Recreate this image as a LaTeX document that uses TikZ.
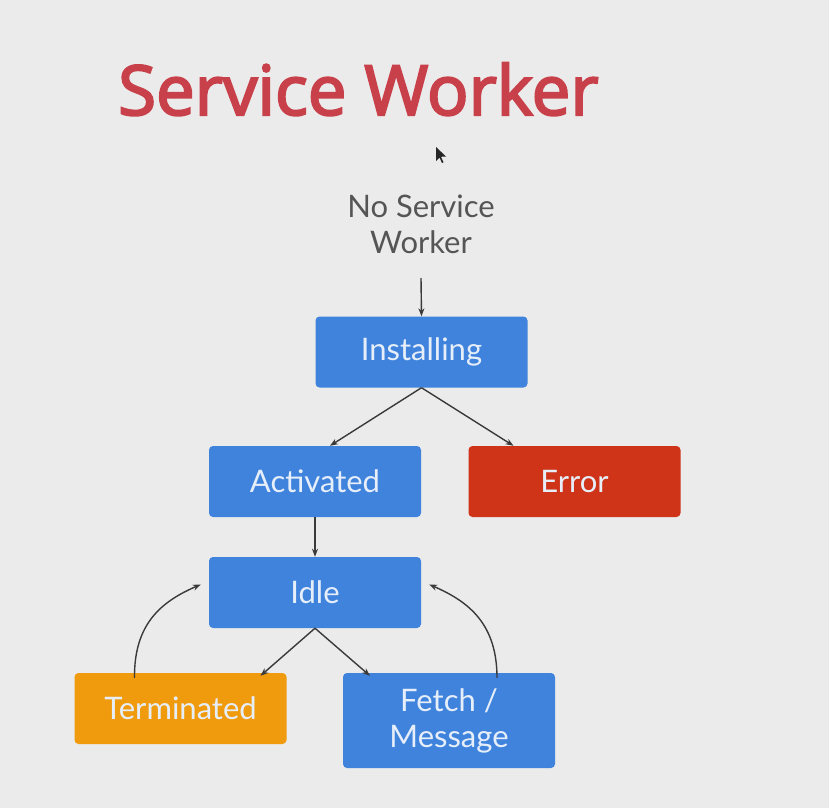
\documentclass[tikz,border=0pt]{standalone}
\usepackage{fontspec}
\setmainfont{Open Sans}
\newfontfamily\titlefont[FakeBold=3]{Open Sans}
\newfontfamily\boxfont{Lato}
\usetikzlibrary{arrows.meta}
\definecolor{bgc}{HTML}{EBEBEB}
\definecolor{titlered}{HTML}{C8404A}
\definecolor{boxblue}{HTML}{3F83DD}
\definecolor{boxred}{HTML}{CF3318}
\definecolor{boxorange}{HTML}{F09A0E}
\definecolor{txtlight}{HTML}{E6EEF9}
\definecolor{txtgray}{HTML}{555555}
\definecolor{arrowc}{HTML}{3A3A3A}
\tikzset{
  state/.style={draw=none, rounded corners=4pt, minimum width=212pt, minimum height=71pt,
    inner sep=0pt, text=txtlight, font=\boxfont\fontsize{31}{36}\selectfont, align=center},
  conn/.style={draw=arrowc, line width=1.4pt, -{Stealth[length=8pt,width=6pt]}},
}
\begin{document}
\begin{tikzpicture}[x=1pt,y=-1pt]
\fill[bgc] (0,0) rectangle (829,808);
\useasboundingbox (0,0) rectangle (829,808);
\node[anchor=base west, text=titlered, inner sep=0pt, font=\titlefont\fontsize{69}{80}\selectfont] (title) at (118,115) {Service Worker};
% cursor
\fill[black!85] (436,147) -- (436,161) -- (439.5,157.5) -- (442,163) -- (443.5,162.3) -- (441,156.8) -- (446,156.5) -- cycle;
\node[text=txtgray, align=center, font=\boxfont\fontsize{31}{36}\selectfont, inner sep=0pt] (nosw) at (421,224) {No Service\\Worker};
\node[state, fill=boxblue] (inst) at (421.5,352) {Installing};
\node[state, fill=boxblue] (act) at (315,481.5) {Activated};
\node[state, fill=boxred] (err) at (574.5,481.5) {Error};
\node[state, fill=boxblue] (idle) at (315,592.5) {Idle};
\node[state, fill=boxorange] (term) at (180.5,708.5) {Terminated};
\node[state, fill=boxblue, minimum height=95pt] (fetch) at (449,720.5) {Fetch /\\Message};
\coordinate (nsb) at (421,278);
\draw[conn] (nsb) -- (inst.north);
\draw[conn] (inst.south) -- ([xshift=15pt]act.north);
\draw[conn] (inst.south) -- ([xshift=-61pt]err.north);
\draw[conn] (act.south) -- (idle.north);
\draw[conn] (idle.south) -- ([xshift=80pt,yshift=-3pt]term.north);
\draw[conn] (idle.south) -- ([xshift=-79pt,yshift=-3pt]fetch.north);
\draw[conn] ([xshift=-46pt,yshift=-5pt]term.north) .. controls (134,625) and (160,602) .. ([xshift=-8pt,yshift=8pt]idle.west);
\draw[conn] ([xshift=48pt,yshift=-5pt]fetch.north) .. controls (497,625) and (470,602) .. ([xshift=8pt,yshift=8pt]idle.east);
\end{tikzpicture}
\end{document}
